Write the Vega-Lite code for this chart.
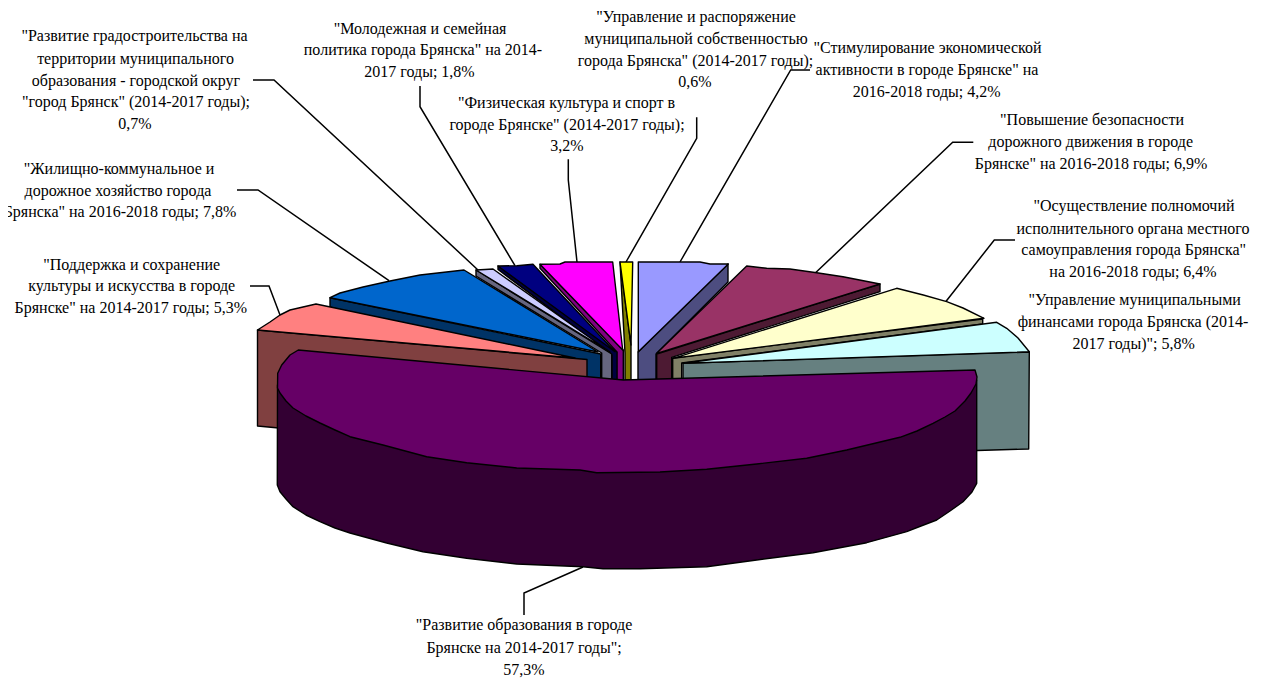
{"$schema":"https://vega.github.io/schema/vega-lite/v6.json","autosize":{"type":"fit","contains":"padding"},"width":1268,"height":680,"padding":0,"background":"white","config":{"view":{"stroke":null}},
"datasets":{
"slices":[
{"p":"s4b","i":0,"x":728,"y":264},{"p":"s4b","i":1,"x":728,"y":282},{"p":"s4b","i":2,"x":656,"y":354},{"p":"s4b","i":3,"x":656,"y":380},{"p":"s4b","i":4,"x":638,"y":380},{"p":"s4b","i":5,"x":638,"y":352},
{"p":"s4t","i":0,"x":638.3,"y":262},{"p":"s4t","i":1,"x":700,"y":262},{"p":"s4t","i":2,"x":710,"y":264},{"p":"s4t","i":3,"x":728.3,"y":264},{"p":"s4t","i":4,"x":638.3,"y":351.7},
{"p":"s5b","i":0,"x":880,"y":284},{"p":"s5b","i":1,"x":880,"y":291.7},{"p":"s5b","i":2,"x":671.7,"y":357.3},{"p":"s5b","i":3,"x":671.7,"y":380},{"p":"s5b","i":4,"x":656.7,"y":380},{"p":"s5b","i":5,"x":656.7,"y":354},
{"p":"s5t","i":0,"x":746.7,"y":266},{"p":"s5t","i":1,"x":766.7,"y":268.3},{"p":"s5t","i":2,"x":790,"y":269},{"p":"s5t","i":3,"x":816.7,"y":272.7},{"p":"s5t","i":4,"x":843,"y":276.7},{"p":"s5t","i":5,"x":880,"y":284},{"p":"s5t","i":6,"x":656.7,"y":353.3},
{"p":"s6b","i":0,"x":982.7,"y":319},{"p":"s6b","i":1,"x":982.7,"y":324},{"p":"s6b","i":2,"x":681.7,"y":363},{"p":"s6b","i":3,"x":681.7,"y":380},{"p":"s6b","i":4,"x":672.7,"y":380},{"p":"s6b","i":5,"x":672.7,"y":358},
{"p":"s6t","i":0,"x":896.7,"y":288.3},{"p":"s6t","i":1,"x":923.3,"y":295},{"p":"s6t","i":2,"x":946.7,"y":301.7},{"p":"s6t","i":3,"x":963,"y":308},{"p":"s6t","i":4,"x":984,"y":318.3},{"p":"s6t","i":5,"x":673.3,"y":358.3},
{"p":"s7b","i":0,"x":1029.3,"y":352},{"p":"s7b","i":1,"x":1028.7,"y":449},{"p":"s7b","i":2,"x":977,"y":450.5},{"p":"s7b","i":3,"x":900,"y":420},{"p":"s7b","i":4,"x":683,"y":380},{"p":"s7b","i":5,"x":683,"y":363.3},
{"p":"s7t","i":0,"x":996.7,"y":322.3},{"p":"s7t","i":1,"x":1006.7,"y":328.3},{"p":"s7t","i":2,"x":1018,"y":338},{"p":"s7t","i":3,"x":1029.3,"y":351.7},{"p":"s7t","i":4,"x":683,"y":363.3},
{"p":"s3b","i":0,"x":620,"y":262},{"p":"s3b","i":1,"x":631,"y":345},{"p":"s3b","i":2,"x":631,"y":380},{"p":"s3b","i":3,"x":625,"y":380},{"p":"s3b","i":4,"x":625,"y":353},
{"p":"s3t","i":0,"x":620,"y":262},{"p":"s3t","i":1,"x":632.7,"y":262},{"p":"s3t","i":2,"x":631,"y":345},
{"p":"s2b","i":0,"x":540,"y":264.3},{"p":"s2b","i":1,"x":623.3,"y":350},{"p":"s2b","i":2,"x":623.3,"y":380},{"p":"s2b","i":3,"x":616.7,"y":380},{"p":"s2b","i":4,"x":616.7,"y":351.7},{"p":"s2b","i":5,"x":540,"y":268.3},
{"p":"s2t","i":0,"x":540,"y":264.3},{"p":"s2t","i":1,"x":560,"y":264},{"p":"s2t","i":2,"x":565,"y":262},{"p":"s2t","i":3,"x":612.7,"y":262},{"p":"s2t","i":4,"x":622.7,"y":350},
{"p":"s1b","i":0,"x":498,"y":266},{"p":"s1b","i":1,"x":617,"y":352},{"p":"s1b","i":2,"x":617,"y":380},{"p":"s1b","i":3,"x":612,"y":380},{"p":"s1b","i":4,"x":612,"y":355},{"p":"s1b","i":5,"x":498,"y":269.5},
{"p":"s1t","i":0,"x":498,"y":266},{"p":"s1t","i":1,"x":517,"y":265.7},{"p":"s1t","i":2,"x":533,"y":264.3},{"p":"s1t","i":3,"x":615,"y":351.7},
{"p":"s0b","i":0,"x":476,"y":270},{"p":"s0b","i":1,"x":611.7,"y":354},{"p":"s0b","i":2,"x":611.7,"y":380},{"p":"s0b","i":3,"x":601.7,"y":380},{"p":"s0b","i":4,"x":601.7,"y":353},{"p":"s0b","i":5,"x":476,"y":276},
{"p":"s0t","i":0,"x":476,"y":270},{"p":"s0t","i":1,"x":485,"y":269.5},{"p":"s0t","i":2,"x":493,"y":269},{"p":"s0t","i":3,"x":610,"y":352},
{"p":"s9b","i":0,"x":330,"y":297.7},{"p":"s9b","i":1,"x":600.7,"y":354},{"p":"s9b","i":2,"x":600.7,"y":380},{"p":"s9b","i":3,"x":587,"y":380},{"p":"s9b","i":4,"x":330,"y":307},
{"p":"s9t","i":0,"x":330,"y":297.7},{"p":"s9t","i":1,"x":340,"y":293},{"p":"s9t","i":2,"x":363,"y":287},{"p":"s9t","i":3,"x":390,"y":281},{"p":"s9t","i":4,"x":420,"y":275},{"p":"s9t","i":5,"x":464,"y":270},{"p":"s9t","i":6,"x":598,"y":352},
{"p":"s8b","i":0,"x":257.5,"y":330},{"p":"s8b","i":1,"x":587,"y":359.5},{"p":"s8b","i":2,"x":587,"y":390},{"p":"s8b","i":3,"x":300,"y":430},{"p":"s8b","i":4,"x":257.5,"y":426},
{"p":"s8t","i":0,"x":257.5,"y":330},{"p":"s8t","i":1,"x":270,"y":322},{"p":"s8t","i":2,"x":280,"y":315},{"p":"s8t","i":3,"x":290,"y":310},{"p":"s8t","i":4,"x":303,"y":307},{"p":"s8t","i":5,"x":316,"y":304},{"p":"s8t","i":6,"x":575,"y":358},
{"p":"s10b","i":0,"x":277.5,"y":385},{"p":"s10b","i":1,"x":277.3,"y":485},{"p":"s10b","i":2,"x":280,"y":491.7},{"p":"s10b","i":3,"x":286,"y":499},{"p":"s10b","i":4,"x":293,"y":506.7},{"p":"s10b","i":5,"x":306,"y":515},{"p":"s10b","i":6,"x":320,"y":521.7},{"p":"s10b","i":7,"x":335,"y":528},{"p":"s10b","i":8,"x":350,"y":533},{"p":"s10b","i":9,"x":386.7,"y":543},{"p":"s10b","i":10,"x":423,"y":551.7},{"p":"s10b","i":11,"x":466.7,"y":558.3},{"p":"s10b","i":12,"x":516.7,"y":564},{"p":"s10b","i":13,"x":583,"y":566.7},{"p":"s10b","i":14,"x":603,"y":568.7},{"p":"s10b","i":15,"x":640,"y":568.7},{"p":"s10b","i":16,"x":706.7,"y":566.7},{"p":"s10b","i":17,"x":756.7,"y":560},{"p":"s10b","i":18,"x":813,"y":552.7},{"p":"s10b","i":19,"x":866.7,"y":542.7},{"p":"s10b","i":20,"x":906.7,"y":531.7},{"p":"s10b","i":21,"x":921,"y":526},{"p":"s10b","i":22,"x":936.7,"y":520},{"p":"s10b","i":23,"x":950,"y":511},{"p":"s10b","i":24,"x":963,"y":501.7},{"p":"s10b","i":25,"x":972,"y":492},{"p":"s10b","i":26,"x":976.7,"y":483.3},{"p":"s10b","i":27,"x":976.7,"y":380},
{"p":"s10t","i":0,"x":298.3,"y":350},{"p":"s10t","i":1,"x":623.3,"y":380},{"p":"s10t","i":2,"x":975,"y":370},{"p":"s10t","i":3,"x":977,"y":377},{"p":"s10t","i":4,"x":976,"y":384},{"p":"s10t","i":5,"x":971,"y":393},{"p":"s10t","i":6,"x":965,"y":401},{"p":"s10t","i":7,"x":955,"y":411},{"p":"s10t","i":8,"x":945,"y":417},{"p":"s10t","i":9,"x":933,"y":423.3},{"p":"s10t","i":10,"x":917,"y":431},{"p":"s10t","i":11,"x":900,"y":437.3},{"p":"s10t","i":12,"x":846.7,"y":450},{"p":"s10t","i":13,"x":806.7,"y":458.3},{"p":"s10t","i":14,"x":756.7,"y":464},{"p":"s10t","i":15,"x":706.7,"y":469.3},{"p":"s10t","i":16,"x":660,"y":472},{"p":"s10t","i":17,"x":596.7,"y":472.7},{"p":"s10t","i":18,"x":580,"y":470},{"p":"s10t","i":19,"x":516.7,"y":468},{"p":"s10t","i":20,"x":466.7,"y":462.7},{"p":"s10t","i":21,"x":426.7,"y":456.7},{"p":"s10t","i":22,"x":383,"y":445},{"p":"s10t","i":23,"x":350,"y":436.7},{"p":"s10t","i":24,"x":335,"y":430},{"p":"s10t","i":25,"x":320,"y":423},{"p":"s10t","i":26,"x":306,"y":416},{"p":"s10t","i":27,"x":293,"y":408},{"p":"s10t","i":28,"x":286,"y":401},{"p":"s10t","i":29,"x":280,"y":393},{"p":"s10t","i":30,"x":277.5,"y":388},{"p":"s10t","i":31,"x":277.7,"y":373.3},{"p":"s10t","i":32,"x":281.7,"y":365},{"p":"s10t","i":33,"x":290,"y":355}
],
"leaders":[
{"l":"a","i":0,"x":253,"y":80},{"l":"a","i":1,"x":274,"y":80},{"l":"a","i":2,"x":478,"y":270},
{"l":"b","i":0,"x":237,"y":190},{"l":"b","i":1,"x":258,"y":190},{"l":"b","i":2,"x":389,"y":280.7},
{"l":"c","i":0,"x":250,"y":286},{"l":"c","i":1,"x":269,"y":286},{"l":"c","i":2,"x":280,"y":315},
{"l":"d","i":0,"x":420,"y":86},{"l":"d","i":1,"x":420,"y":106.7},{"l":"d","i":2,"x":515,"y":265.7},
{"l":"e","i":0,"x":568.3,"y":159.3},{"l":"e","i":1,"x":568.3,"y":180},{"l":"e","i":2,"x":577,"y":262},
{"l":"f","i":0,"x":696.7,"y":117.3},{"l":"f","i":1,"x":696.7,"y":138.3},{"l":"f","i":2,"x":626,"y":262},
{"l":"g","i":0,"x":810,"y":70},{"l":"g","i":1,"x":790.7,"y":70},{"l":"g","i":2,"x":680,"y":262},
{"l":"h","i":0,"x":973.3,"y":142.3},{"l":"h","i":1,"x":952.7,"y":142.3},{"l":"h","i":2,"x":815,"y":273.3},
{"l":"k","i":0,"x":1015,"y":240},{"l":"k","i":1,"x":994.3,"y":240},{"l":"k","i":2,"x":945.7,"y":301.7},
{"l":"m","i":0,"x":583,"y":567},{"l":"m","i":1,"x":524,"y":593},{"l":"m","i":2,"x":524,"y":615}
],
"labels":[
{"t":"\"Развитие градостроительства на","x":134.5,"y":36},{"t":"территории муниципального","x":135.5,"y":58.6},{"t":"образования - городской округ","x":136,"y":80.5},{"t":"\"город Брянск\" (2014-2017 годы);","x":136,"y":102},{"t":"0,7%","x":135,"y":124},
{"t":"\"Жилищно-коммунальное и","x":119,"y":168.5},{"t":"дорожное хозяйство города","x":118,"y":190.5},{"t":"Брянска\" на 2016-2018 годы; 7,8%","x":120,"y":212},
{"t":"\"Поддержка и сохранение","x":131.7,"y":264.5},{"t":"культуры и искусства в городе","x":131.7,"y":286.3},{"t":"Брянске\" на 2014-2017 годы; 5,3%","x":130.8,"y":308},
{"t":"\"Молодежная и семейная","x":420,"y":28.5},{"t":"политика города Брянска\" на 2014-","x":423,"y":50},{"t":"2017 годы; 1,8%","x":419.5,"y":72},
{"t":"\"Управление и распоряжение","x":696,"y":16.5},{"t":"муниципальной собственностью","x":696,"y":38.5},{"t":"города Брянска\" (2014-2017 годы);","x":695.5,"y":61},{"t":"0,6%","x":695,"y":82},
{"t":"\"Физическая культура и спорт в","x":566.5,"y":102.5},{"t":"городе Брянске\" (2014-2017 годы);","x":567,"y":124.5},{"t":"3,2%","x":567,"y":146},
{"t":"\"Стимулирование экономической","x":927.5,"y":48.3},{"t":"активности в городе Брянске\" на","x":927,"y":70},{"t":"2016-2018 годы; 4,2%","x":926.7,"y":92},
{"t":"\"Повышение безопасности","x":1092,"y":120},{"t":"дорожного движения в городе","x":1090.7,"y":142.3},{"t":"Брянске\" на 2016-2018 годы; 6,9%","x":1091,"y":164.3},
{"t":"\"Осуществление полномочий","x":1134,"y":206},{"t":"исполнительного органа местного","x":1133,"y":228.7},{"t":"самоуправления города Брянска\"","x":1133.7,"y":250},{"t":"на 2016-2018 годы; 6,4%","x":1133,"y":271.7},
{"t":"\"Управление муниципальными","x":1134.7,"y":300},{"t":"финансами города Брянска (2014-","x":1133,"y":322.3},{"t":"2017 годы)\"; 5,8%","x":1133.7,"y":344.3},
{"t":"\"Развитие образования в городе","x":524,"y":625},{"t":"Брянске на 2014-2017 годы\";","x":524,"y":648},{"t":"57,3%","x":524,"y":670}
],
"mask":[{"x":0,"x2":8,"y":200,"y2":224}]},
"layer":[
{"data":{"name":"leaders"},"mark":{"type":"line","stroke":"black","strokeWidth":1.5},"encoding":{"x":{"field":"x","type":"quantitative","scale":{"domain":[0,1268],"nice":false,"zero":false},"axis":null},"y":{"field":"y","type":"quantitative","scale":{"domain":[680,0],"nice":false,"zero":false},"axis":null},"detail":{"field":"l"},"order":{"field":"i"}}},
{"data":{"name":"slices"},"mark":{"type":"line","filled":true,"interpolate":"linear-closed","stroke":"black","strokeWidth":1.4,"strokeJoin":"round"},"encoding":{"x":{"field":"x","type":"quantitative","axis":null},"y":{"field":"y","type":"quantitative","axis":null},"order":{"field":"i"},"color":{"field":"p","type":"nominal","legend":null,"scale":{"domain":["s0t","s0b","s1t","s1b","s2t","s2b","s3t","s3b","s4t","s4b","s5t","s5b","s6t","s6b","s7t","s7b","s8t","s8b","s9t","s9b","s10t","s10b"],"range":["#ccccff","#666680","#000080","#000040","#ff00ff","#800080","#ffff00","#808000","#9999ff","#4d4d80","#993366","#4d1a33","#ffffcc","#808066","#ccffff","#668080","#ff8080","#804040","#0066cc","#003366","#660066","#330033"]}}}},
{"data":{"name":"labels"},"mark":{"type":"text","font":"Liberation Serif","fontSize":16,"align":"center","baseline":"middle","color":"black"},"encoding":{"x":{"field":"x","type":"quantitative","axis":null},"y":{"field":"y","type":"quantitative","axis":null},"text":{"field":"t"}}},
{"data":{"name":"mask"},"mark":{"type":"rect","color":"white"},"encoding":{"x":{"field":"x","type":"quantitative","axis":null},"x2":{"field":"x2"},"y":{"field":"y","type":"quantitative","axis":null},"y2":{"field":"y2"}}}
]}
